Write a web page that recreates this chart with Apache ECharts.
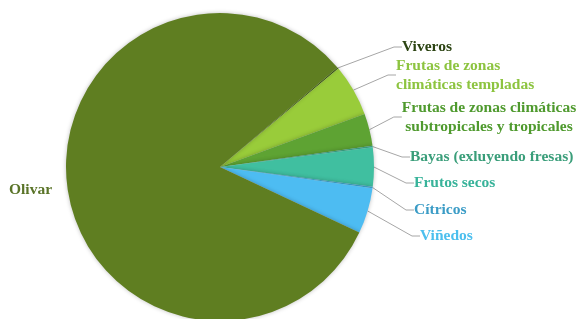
<!DOCTYPE html>
<html>
<head>
<meta charset="utf-8">
<script src="https://cdn.jsdelivr.net/npm/echarts@6/dist/echarts.min.js"></script>
<style>
  html, body { margin: 0; padding: 0; background: #fff; }
  #chart { width: 579px; height: 319px; }
</style>
</head>
<body>
<div id="chart"></div>
<script>
// slices, clockwise starting at the top-right
const categories = [
  'Viveros',
  'Frutas de zonas\nclimáticas templadas',
  'Frutas de zonas climáticas\nsubtropicales y tropicales',
  'Bayas (exluyendo fresas)',
  'Frutos secos',
  'Cítricos',
  'Viñedos',
  'Olivar'
];
const shares = [0.15, 5.45, 3.4, 0.15, 4.1, 0.15, 4.8, 81.8];

const sliceColors = ['#4a6b1a', '#99cc3a', '#5ea333', '#3ea98a', '#40bfa0', '#3fa6d0', '#4dbcf2', '#5f7e21'];
const labelColors = ['#2c4413', '#8dc440', '#4f9a2e', '#3a9e7a', '#38b39a', '#3b9cc6', '#4cbfee', '#5a7428'];

// label anchor [x, y, align]
const labelPos = [
  [402, 47, 'left'],
  [396, 75, 'left'],
  [489, 117, 'center'],
  [410, 157, 'left'],
  [414, 183, 'left'],
  [414, 210, 'left'],
  [420, 236, 'left'],
  [9, 190, 'left']
];

const chart = echarts.init(document.getElementById('chart'));

const data = categories.map((name, i) => ({
  name: name,
  value: shares[i],
  itemStyle: { color: sliceColors[i] },
  label: { color: labelColors[i] },
  labelLine: { show: name !== 'Olivar' }
}));

chart.setOption({
  animation: false,
  series: [
    {
      type: 'pie',
      center: [220, 167],
      radius: 154,
      startAngle: 40.3,
      clockwise: true,
      avoidLabelOverlap: false,
      data: data,
      itemStyle: {
        borderWidth: 0,
        shadowBlur: 4,
        shadowColor: 'rgba(0,0,0,0.25)'
      },
      label: {
        show: true,
        position: 'outside',
        fontFamily: 'Liberation Serif',
        fontWeight: 'bold',
        fontSize: 15.5,
        lineHeight: 19
      },
      labelLine: {
        length: 10,
        length2: 8,
        lineStyle: { color: '#a6a6a6', width: 1 }
      },
      labelLayout: function (params) {
        const p = labelPos[params.dataIndex];
        return { x: p[0], y: p[1], align: p[2], verticalAlign: 'middle' };
      }
    }
  ]
});
</script>
</body>
</html>
